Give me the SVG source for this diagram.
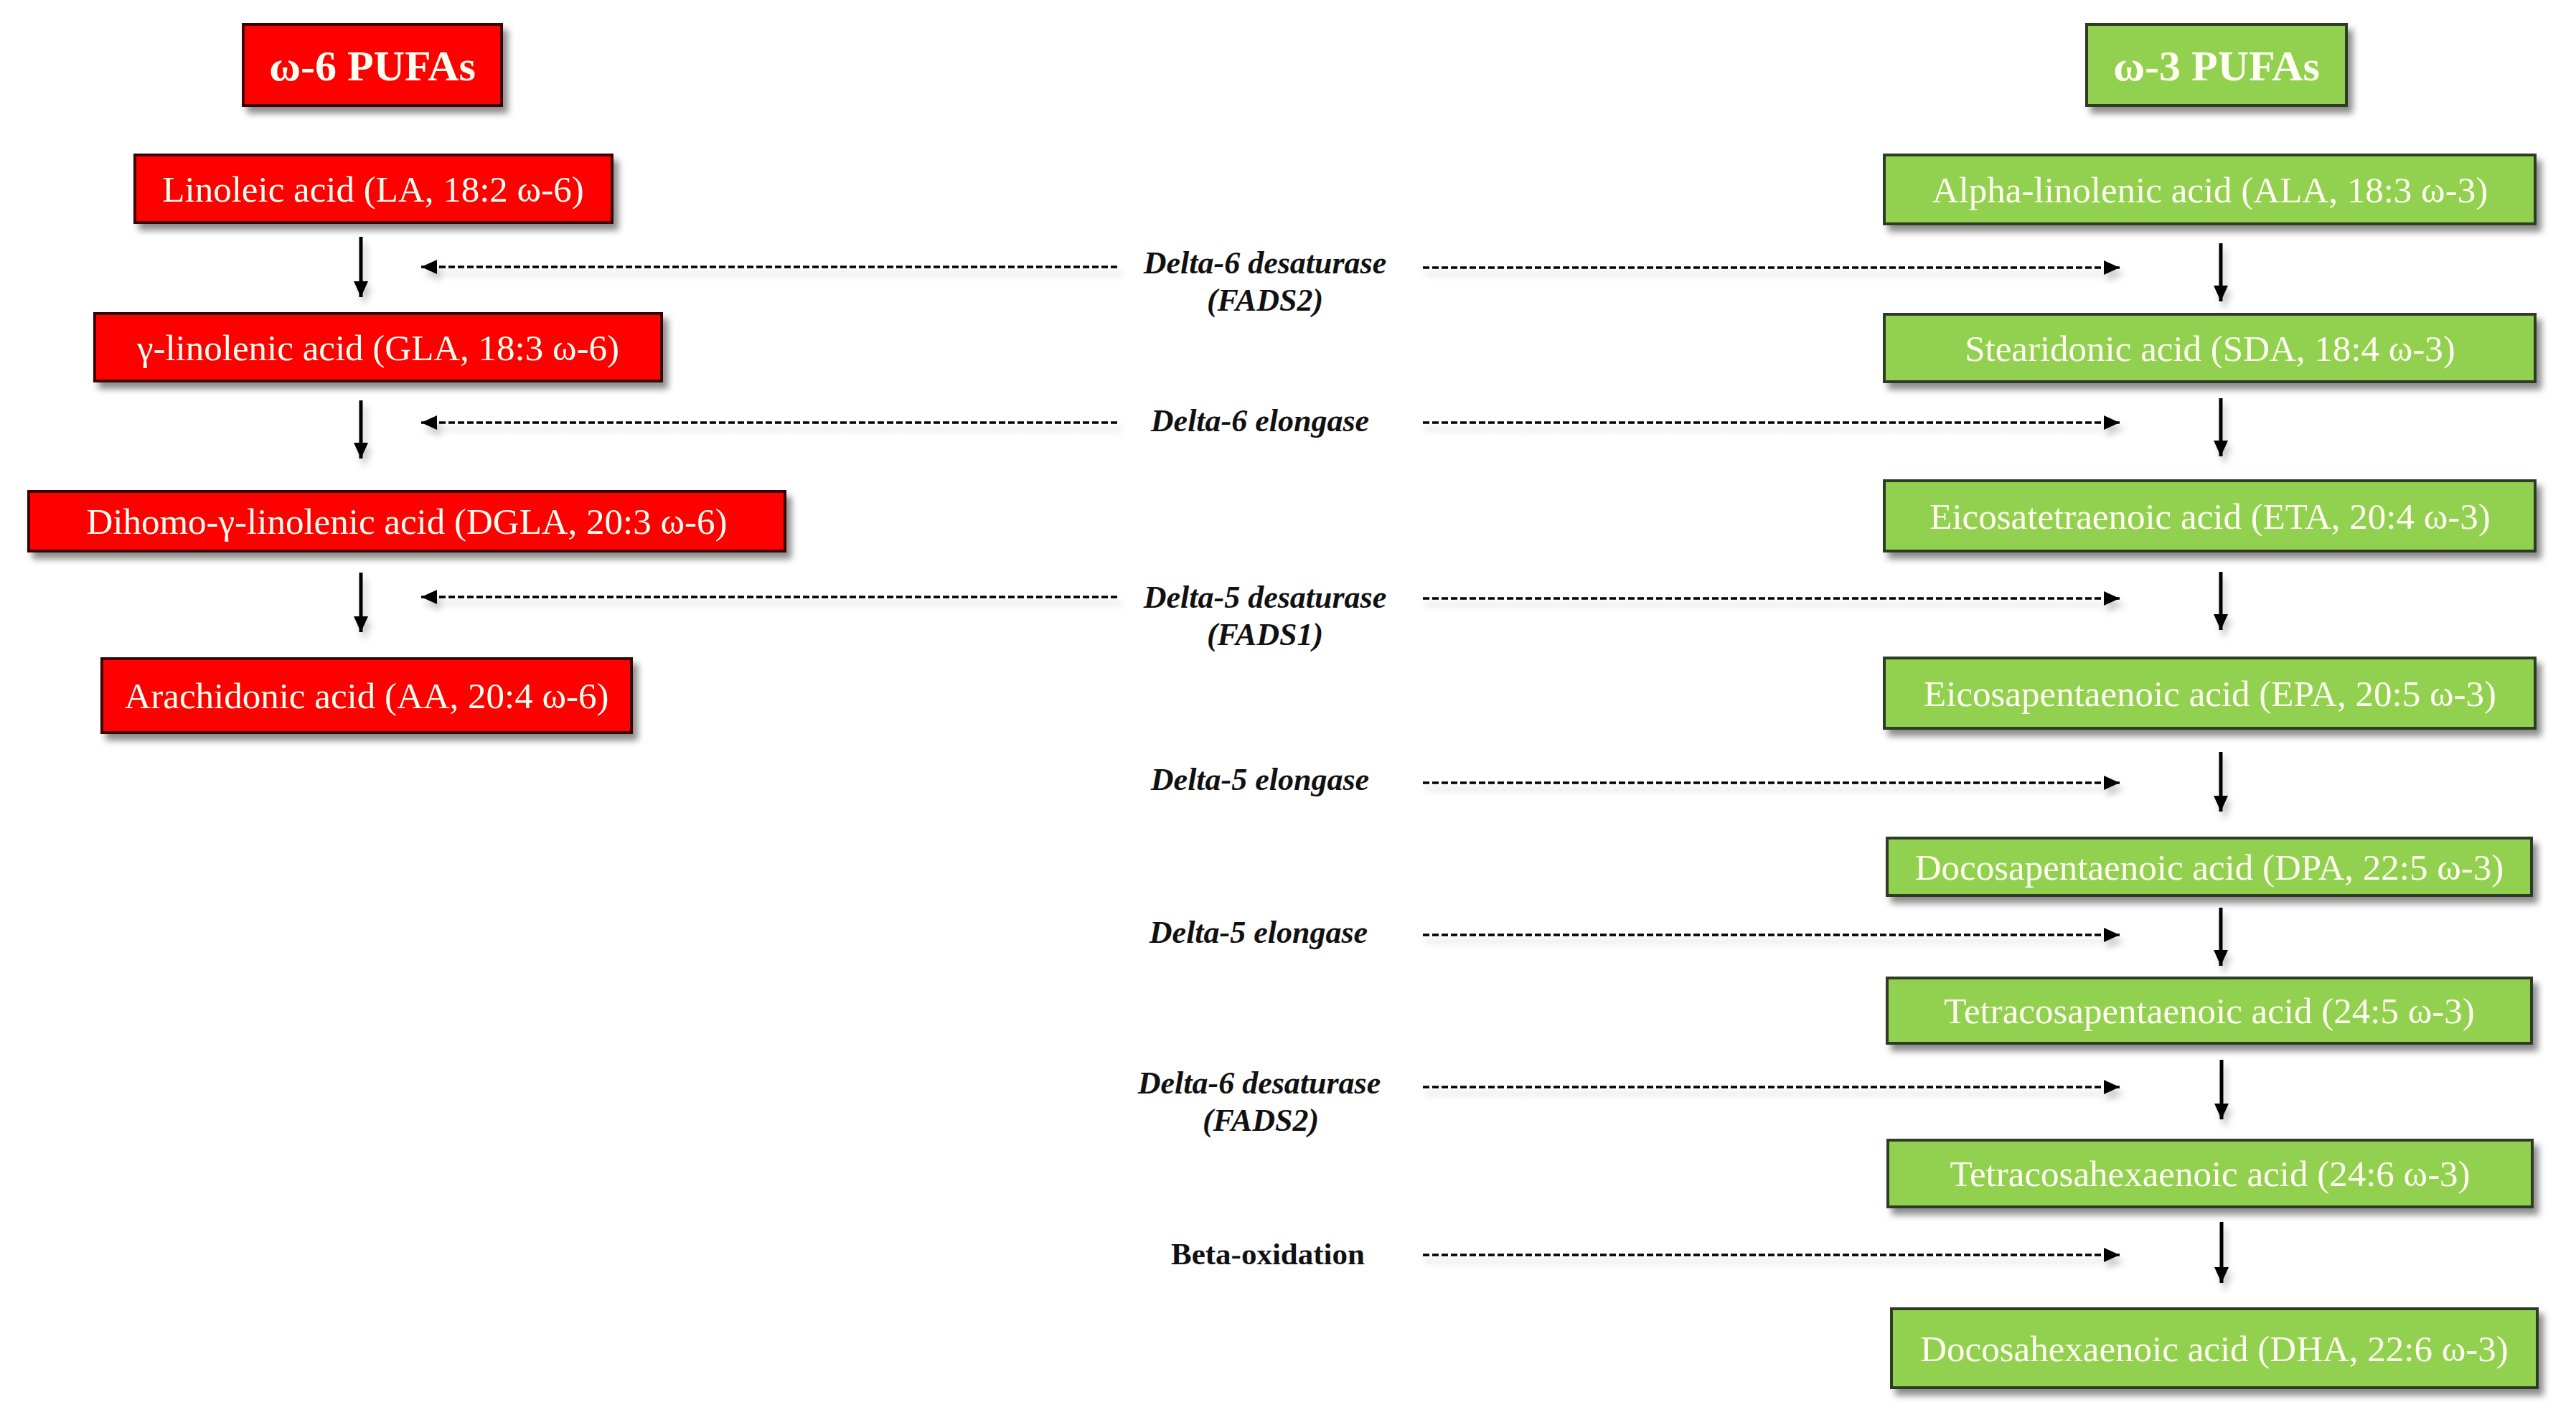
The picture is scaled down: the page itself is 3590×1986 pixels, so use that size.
<svg xmlns="http://www.w3.org/2000/svg" width="3590" height="1986" viewBox="0 0 3590 1986">
<defs>
<filter id="sh" x="-5%" y="-20%" width="115%" height="160%">
<feDropShadow dx="7" dy="9" stdDeviation="5" flood-color="#000" flood-opacity="0.45"/>
</filter>
<filter id="lsh" x="-5%" y="-100%" width="110%" height="400%">
<feDropShadow dx="5" dy="9" stdDeviation="5" flood-color="#000" flood-opacity="0.22"/>
</filter>
<marker id="ah" markerUnits="userSpaceOnUse" viewBox="0 0 22 20" markerWidth="22" markerHeight="20" refX="22" refY="10" orient="auto">
<path d="M0,0 L22,10 L0,20 Z" fill="#000"/>
</marker>
<marker id="ahs" markerUnits="userSpaceOnUse" viewBox="0 0 22 20" markerWidth="22" markerHeight="20" refX="22" refY="10" orient="auto">
<path d="M0,0 L22,10 L0,20 Z" fill="#000"/>
</marker>
</defs>
<style>
.red{fill:#FF0000;stroke:#3a0505;stroke-width:4}
.grn{fill:#92D050;stroke:#2e3a28;stroke-width:4}
.bt{font-family:"Liberation Serif","Times New Roman",serif;font-size:51px;fill:#FFFFF2;text-anchor:middle}
.hd{font-family:"Liberation Serif","Times New Roman",serif;font-size:60px;font-weight:bold;fill:#FFFFF2;text-anchor:middle}
.en{font-family:"Liberation Serif","Times New Roman",serif;font-size:44px;font-weight:bold;font-style:italic;fill:#111;text-anchor:middle}
.eb{font-family:"Liberation Serif","Times New Roman",serif;font-size:43px;font-weight:bold;fill:#111;text-anchor:middle}
.sol{stroke:#000;stroke-width:5;fill:none}
.dash{stroke:#000;stroke-width:3.5;fill:none;stroke-dasharray:9 4}
</style>
<rect width="3590" height="1986" fill="#fff"/>

<g id="connectors" filter="url(#lsh)">
<line class="sol" x1="503" y1="330" x2="503" y2="414" marker-end="url(#ahs)"/>
<line class="sol" x1="503" y1="558" x2="503" y2="639" marker-end="url(#ahs)"/>
<line class="sol" x1="503" y1="798" x2="503" y2="881" marker-end="url(#ahs)"/>
<line class="dash" x1="1557" y1="372" x2="587" y2="372" marker-end="url(#ah)"/>
<line class="dash" x1="1557" y1="589" x2="587" y2="589" marker-end="url(#ah)"/>
<line class="dash" x1="1557" y1="832" x2="587" y2="832" marker-end="url(#ah)"/>
<line class="sol" x1="3095" y1="339" x2="3095" y2="420" marker-end="url(#ahs)"/>
<line class="sol" x1="3095" y1="555" x2="3095" y2="636" marker-end="url(#ahs)"/>
<line class="sol" x1="3095" y1="797" x2="3095" y2="878" marker-end="url(#ahs)"/>
<line class="sol" x1="3095" y1="1048" x2="3095" y2="1131" marker-end="url(#ahs)"/>
<line class="sol" x1="3095" y1="1265" x2="3095" y2="1346" marker-end="url(#ahs)"/>
<line class="sol" x1="3096" y1="1477" x2="3096" y2="1560" marker-end="url(#ahs)"/>
<line class="sol" x1="3096" y1="1703" x2="3096" y2="1788" marker-end="url(#ahs)"/>
<line class="dash" x1="1983" y1="373" x2="2954" y2="373" marker-end="url(#ah)"/>
<line class="dash" x1="1983" y1="589" x2="2954" y2="589" marker-end="url(#ah)"/>
<line class="dash" x1="1983" y1="834" x2="2954" y2="834" marker-end="url(#ah)"/>
<line class="dash" x1="1983" y1="1091" x2="2954" y2="1091" marker-end="url(#ah)"/>
<line class="dash" x1="1983" y1="1303" x2="2954" y2="1303" marker-end="url(#ah)"/>
<line class="dash" x1="1983" y1="1515" x2="2954" y2="1515" marker-end="url(#ah)"/>
<line class="dash" x1="1983" y1="1749" x2="2954" y2="1749" marker-end="url(#ah)"/>
</g>

<g id="enzyme-labels">
<text class="en" x="1763" y="381">Delta-6 desaturase</text>
<text class="en" x="1763" y="433">(FADS2)</text>
<text class="en" x="1756" y="601">Delta-6 elongase</text>
<text class="en" x="1763" y="847">Delta-5 desaturase</text>
<text class="en" x="1763" y="899">(FADS1)</text>
<text class="en" x="1756" y="1101">Delta-5 elongase</text>
<text class="en" x="1754" y="1314">Delta-5 elongase</text>
<text class="en" x="1755" y="1524">Delta-6 desaturase</text>
<text class="en" x="1757" y="1576">(FADS2)</text>
<text class="eb" x="1767" y="1762">Beta-oxidation</text>
</g>

<g id="n6-header"><rect class="red" x="339" y="34" width="360" height="113" filter="url(#sh)"/><text class="hd" x="519" y="112">ω-6 PUFAs</text></g>
<g id="LA"><rect class="red" x="188" y="216" width="665" height="94" filter="url(#sh)"/><text class="bt" x="520" y="281">Linoleic acid (LA, 18:2 ω-6)</text></g>
<g id="GLA"><rect class="red" x="132" y="437" width="790" height="94" filter="url(#sh)"/><text class="bt" x="527" y="502">γ-linolenic acid (GLA, 18:3 ω-6)</text></g>
<g id="DGLA"><rect class="red" x="40" y="685" width="1054" height="83" filter="url(#sh)"/><text class="bt" x="567" y="744">Dihomo-γ-linolenic acid (DGLA, 20:3 ω-6)</text></g>
<g id="AA"><rect class="red" x="142" y="918" width="738" height="103" filter="url(#sh)"/><text class="bt" x="511" y="987">Arachidonic acid (AA, 20:4 ω-6)</text></g>

<g id="n3-header"><rect class="grn" x="2908" y="34" width="362" height="113" filter="url(#sh)"/><text class="hd" x="3089" y="112">ω-3 PUFAs</text></g>
<g id="ALA"><rect class="grn" x="2626" y="216" width="907" height="96" filter="url(#sh)"/><text class="bt" x="3080" y="282">Alpha-linolenic acid (ALA, 18:3 ω-3)</text></g>
<g id="SDA"><rect class="grn" x="2626" y="438" width="907" height="94" filter="url(#sh)"/><text class="bt" x="3080" y="503">Stearidonic acid (SDA, 18:4 ω-3)</text></g>
<g id="ETA"><rect class="grn" x="2626" y="670" width="907" height="98" filter="url(#sh)"/><text class="bt" x="3080" y="737">Eicosatetraenoic acid (ETA, 20:4 ω-3)</text></g>
<g id="EPA"><rect class="grn" x="2626" y="917" width="907" height="98" filter="url(#sh)"/><text class="bt" x="3080" y="984">Eicosapentaenoic acid (EPA, 20:5 ω-3)</text></g>
<g id="DPA"><rect class="grn" x="2630" y="1168" width="898" height="80" filter="url(#sh)"/><text class="bt" x="3079" y="1226">Docosapentaenoic acid (DPA, 22:5 ω-3)</text></g>
<g id="TPA"><rect class="grn" x="2630" y="1363" width="898" height="91" filter="url(#sh)"/><text class="bt" x="3079" y="1426">Tetracosapentaenoic acid (24:5 ω-3)</text></g>
<g id="THA"><rect class="grn" x="2631" y="1589" width="898" height="93" filter="url(#sh)"/><text class="bt" x="3080" y="1653">Tetracosahexaenoic acid (24:6 ω-3)</text></g>
<g id="DHA"><rect class="grn" x="2636" y="1824" width="900" height="110" filter="url(#sh)"/><text class="bt" x="3086" y="1897">Docosahexaenoic acid (DHA, 22:6 ω-3)</text></g>
</svg>
